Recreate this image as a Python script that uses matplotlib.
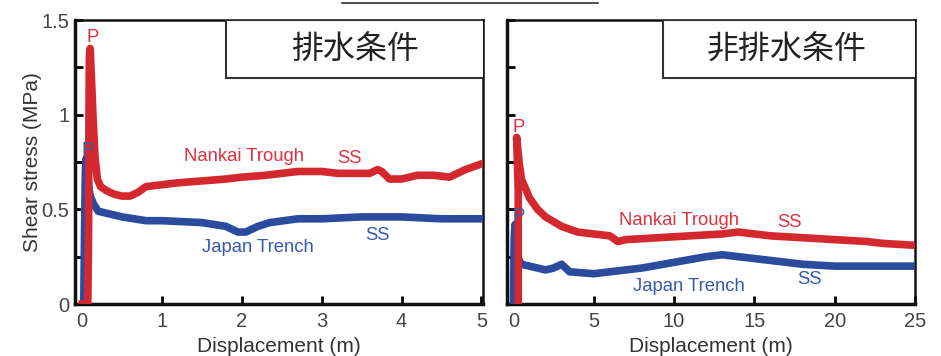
import numpy as np
import matplotlib
matplotlib.use("Agg")
from matplotlib import pyplot as plt
from matplotlib.patches import Rectangle
from matplotlib.lines import Line2D

plt.rcParams['font.family'] = ['Liberation Sans', 'Noto Sans CJK JP', 'DejaVu Sans']

# drained condition (left panel)
dr_nankai_x = [0.0, 0.07, 0.08, 0.085, 0.09, 0.1, 0.12, 0.14, 0.16, 0.19, 0.23, 0.3, 0.4, 0.5, 0.6, 0.7, 0.8, 1.0,
               1.2, 1.5, 1.8, 2.0, 2.3, 2.5, 2.7, 3.0, 3.2, 3.4, 3.6, 3.7, 3.75, 3.85, 4.0, 4.2, 4.4, 4.6, 4.8, 5.0]
dr_nankai_y = [0.0, 0.0, 0.4, 1.0, 1.3, 1.35, 1.15, 0.95, 0.78, 0.66, 0.62, 0.6, 0.58, 0.57, 0.57, 0.59, 0.62, 0.63,
               0.64, 0.65, 0.66, 0.67, 0.68, 0.69, 0.70, 0.70, 0.69, 0.69, 0.69, 0.71, 0.70, 0.66, 0.66, 0.68, 0.68, 0.67, 0.71, 0.74]
dr_japan_x = [0.02, 0.03, 0.04, 0.05, 0.07, 0.1, 0.14, 0.2, 0.3, 0.5, 0.8, 1.0, 1.5, 1.8, 1.95, 2.05, 2.2, 2.35,
              2.7, 3.0, 3.5, 4.0, 4.5, 5.0]
dr_japan_y = [0.0, 0.4, 0.7, 0.77, 0.66, 0.57, 0.53, 0.49, 0.48, 0.46, 0.44, 0.44, 0.43, 0.41, 0.38, 0.38, 0.41, 0.43,
              0.45, 0.45, 0.46, 0.46, 0.45, 0.45]

# undrained condition (right panel)
ud_nankai_x = [0.3, 0.3, 0.2, 0.35, 0.5, 0.8, 1.0, 1.5, 2.0, 3.0, 4.0, 5.0, 6.0, 6.5, 7.0, 9.0, 11.0, 13.0, 14.0,
               16.0, 18.0, 20.0, 22.0, 23.0, 25.0]
ud_nankai_y = [0.0, 0.6, 0.88, 0.75, 0.66, 0.6, 0.56, 0.5, 0.46, 0.41, 0.38, 0.37, 0.36, 0.33, 0.34, 0.35, 0.36, 0.37, 0.38,
               0.36, 0.35, 0.34, 0.33, 0.32, 0.31]
ud_japan_x = [0.0, 0.05, 0.1, 0.2, 0.3, 0.5, 1.0, 2.0, 2.5, 3.0, 3.5, 5.0, 6.0, 8.0, 10.0, 12.0, 13.0, 14.0, 16.0,
              18.0, 20.0, 22.0, 25.0]
ud_japan_y = [0.0, 0.35, 0.42, 0.3, 0.24, 0.21, 0.2, 0.18, 0.19, 0.21, 0.17, 0.16, 0.17, 0.19, 0.22, 0.25, 0.26, 0.25, 0.23,
              0.21, 0.2, 0.2, 0.2]

titles = ['排水条件', '非排水条件']

red = '#d3292e'
blue = '#2a4b9e'
red_txt = '#e0303e'
blue_txt = '#3658b0'

fig = plt.figure(figsize=(9.41, 3.56), dpi=100)
ax1 = fig.add_axes([75 / 941, 52 / 356, 408 / 941, 284 / 356])
ax2 = fig.add_axes([507 / 941, 52 / 356, 408 / 941, 284 / 356])

panels = [
    (ax1, dr_nankai_x, dr_nankai_y, dr_japan_x, dr_japan_y, (-0.09, 5.02), [0, 1, 2, 3, 4, 5]),
    (ax2, ud_nankai_x, ud_nankai_y, ud_japan_x, ud_japan_y, (-0.4, 25), [0, 5, 10, 15, 20, 25]),
]

for i, (ax, nx, ny, jx, jy, xlim, xt) in enumerate(panels):
    ax.plot(jx, jy, color=blue, lw=5.5, solid_joinstyle='round', zorder=3)
    ax.plot(nx, ny, color=red, lw=5.5, solid_joinstyle='round', zorder=4)
    ax.set_xlim(*xlim)
    ax.set_ylim(0, 1.5)
    ax.set_xticks(xt)
    ax.set_yticks([0, 0.5, 1, 1.5])
    ax.set_yticks([0.25, 0.75, 1.25], minor=True)
    ax.set_yticklabels(['0', '0.5', '1', '1.5'])
    ax.tick_params(direction='in', length=6, width=2, labelsize=14.5, labelcolor='#444444', pad=4)
    ax.tick_params(axis='x', pad=6)
    ax.tick_params(axis='y', which='minor', direction='in', length=6, width=2)
    ax.tick_params(top=False, right=False)
    for s in ax.spines.values():
        s.set_linewidth(1.8)
        s.set_color('#111111')
    ax.spines['bottom'].set_linewidth(2.5)
    ax.spines['left'].set_linewidth(2.5)
    ax.set_xlabel('Displacement (m)', fontsize=15, color='#333333', labelpad=4)

    box = Rectangle((0.37 if i == 0 else 0.382, 0.796), 0.7, 0.204, transform=ax.transAxes,
                    facecolor='white', edgecolor='#333333', lw=1.5, zorder=6, clip_on=True)
    ax.add_patch(box)
    ax.text(0.686, 0.898, titles[i], transform=ax.transAxes, fontsize=23, ha='center', va='center',
            color='#222222', family=['Noto Sans CJK JP'], zorder=7)

ax1.set_ylabel('Shear stress (MPa)', fontsize=15, color='#333333', labelpad=0)
ax2.set_yticklabels([])

lab = dict(fontsize=13.3, ha='center', va='center', zorder=8)

# annotations, left panel
ax1.text(0.13, 1.41, 'P', color=red_txt, **lab)
ax1.text(0.07, 0.81, 'P', color=blue_txt, **lab)
ax1.text(2.03, 0.78, 'Nankai Trough', color=red_txt, **lab)
ax1.text(3.35, 0.77, 'SS', color=red_txt, **lab)
ax1.text(2.2, 0.30, 'Japan Trench', color=blue_txt, **lab)
ax1.text(3.7, 0.36, 'SS', color=blue_txt, **lab)

# annotations, right panel
ax2.text(0.3, 0.93, 'P', color=red_txt, **lab)
ax2.text(0.3, 0.46, 'P', color=blue_txt, **lab)
ax2.text(10.3, 0.44, 'Nankai Trough', color=red_txt, **lab)
ax2.text(17.2, 0.43, 'SS', color=red_txt, **lab)
ax2.text(10.9, 0.09, 'Japan Trench', color=blue_txt, **lab)
ax2.text(18.4, 0.13, 'SS', color=blue_txt, **lab)

# thin line at the top edge of the picture
fig.add_artist(Line2D([342 / 941, 598 / 941], [1 - 3 / 356, 1 - 3 / 356], color='#333333', lw=1.2))

fig.savefig('out.png', dpi=100)
